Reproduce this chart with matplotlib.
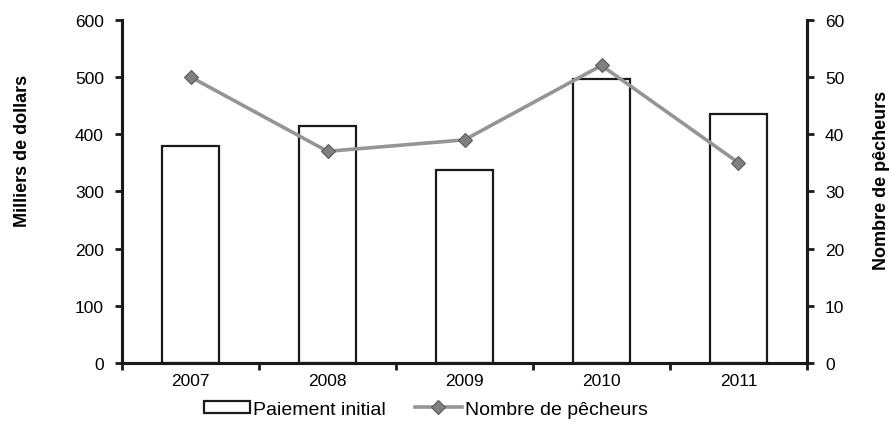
import numpy as np
import matplotlib
matplotlib.use("Agg")
from matplotlib import pyplot as plt

years = ["2007", "2008", "2009", "2010", "2011"]
paiement = [380, 414, 338, 497, 436]      # milliers de dollars
pecheurs = [50, 37, 39, 52, 35]           # nombre de pêcheurs

plt.rcParams["font.family"] = ["Liberation Sans", "DejaVu Sans"]
narrow = ["Liberation Sans Narrow", "Liberation Sans", "DejaVu Sans"]

fig = plt.figure(figsize=(8.92, 4.35), dpi=100)
ax = fig.add_axes([0.1368, 0.1632, 0.7679, 0.7892])
ax2 = ax.twinx()

x = np.arange(len(years))
bars = ax.bar(x, paiement, width=0.42, facecolor="white", edgecolor="#1a1a1a",
              linewidth=1.6, label="Paiement initial", zorder=2)
line, = ax2.plot(x, pecheurs, color="#959595", linewidth=2.6, marker="D",
                 markersize=7.5, markerfacecolor="#808080", markeredgecolor="#5a5a5a",
                 markeredgewidth=0.8, label="Nombre de pêcheurs", zorder=3)

ax.set_xlim(-0.5, len(years) - 0.5)
ax.set_ylim(0, 600)
ax2.set_ylim(0, 60)
ax.set_yticks(range(0, 601, 100))
ax2.set_yticks(range(0, 61, 10))

# Ticks between categories, labels centred under each bar.
ax.set_xticks(np.arange(-0.5, len(years), 1.0))
ax.set_xticklabels([])
ax.set_xticks(x, minor=True)
ax.set_xticklabels(years, minor=True)
ax.tick_params(axis="x", which="major", direction="out", length=5, width=2, color="#1a1a1a")
ax.tick_params(axis="x", which="minor", length=0, pad=7, labelsize=12.5)
ax.tick_params(axis="y", direction="out", length=5, width=2, color="#1a1a1a", labelsize=12.5, pad=8)
ax2.tick_params(axis="y", direction="out", length=5, width=2, color="#1a1a1a", labelsize=12.5, pad=8)

for a in (ax, ax2):
    a.spines["top"].set_visible(False)
    for s in ("left", "right", "bottom"):
        a.spines[s].set_linewidth(2.2)
        a.spines[s].set_color("#1a1a1a")

ax.set_zorder(ax2.get_zorder() - 1)
ax2.patch.set_visible(False)

fig.text(0.025, 0.653, "Milliers de dollars", rotation=90, ha="center", va="center",
         fontsize=13, fontweight="bold", family=narrow)
fig.text(0.988, 0.585, "Nombre de pêcheurs", rotation=90, ha="center", va="center",
         fontsize=13, fontweight="bold", family=narrow)

fig.legend([bars, line], ["Paiement initial", "Nombre de pêcheurs"], loc="center",
           bbox_to_anchor=(0.477, 0.057), ncol=2, frameon=False, fontsize=14,
           handlelength=2.4, handleheight=0.55, handletextpad=0.15, columnspacing=1.5)

fig.savefig("out.png", dpi=100)
